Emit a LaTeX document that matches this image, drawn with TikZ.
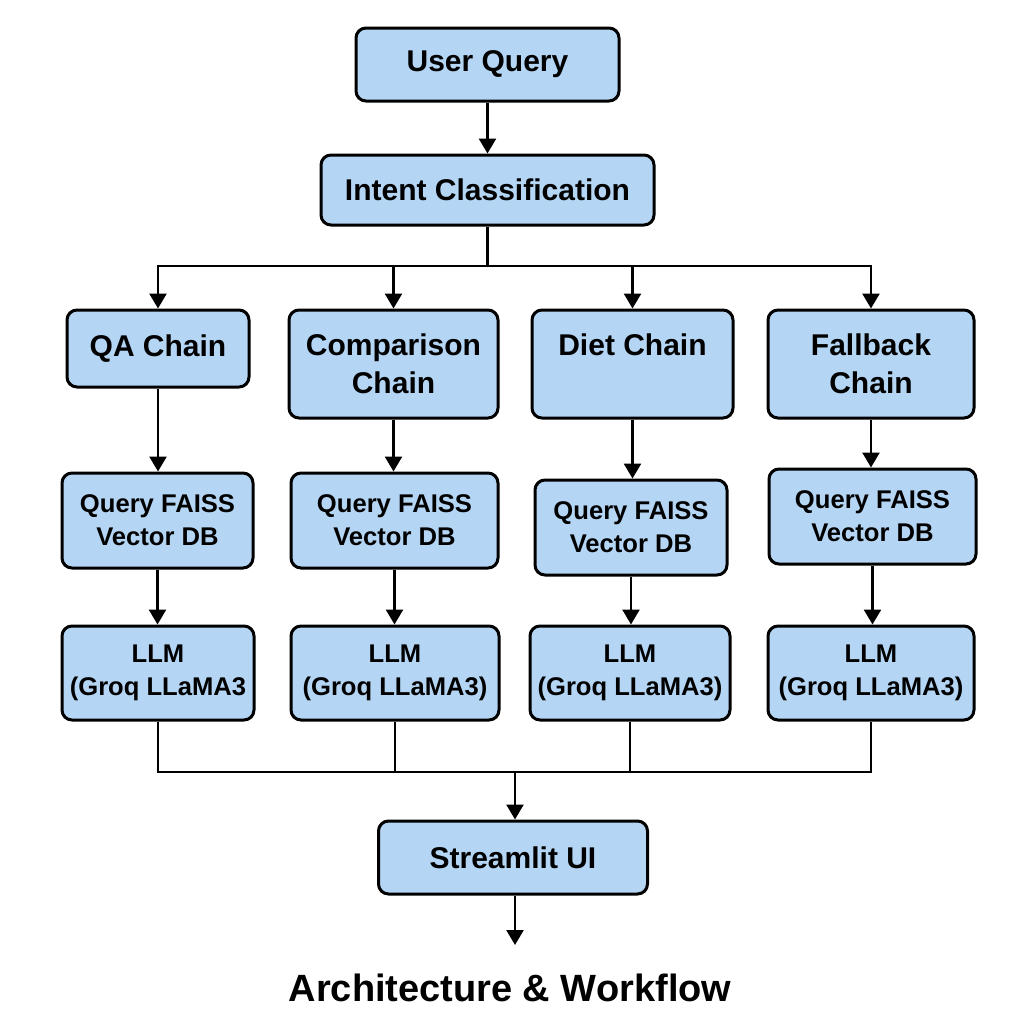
\documentclass[tikz,border=0pt]{standalone}
\usepackage{fontspec}
\setmainfont{Liberation Sans}
\usepackage{tikz}
\usetikzlibrary{arrows.meta,positioning}
\definecolor{boxblue}{RGB}{180,213,243}

\begin{document}
\begin{tikzpicture}[
  x=0.5pt, y=-0.5pt,
  box/.style={draw, line width=1.5pt, fill=boxblue, rounded corners=5pt, align=center, inner sep=2pt, font=\bfseries\fontsize{15}{19}\selectfont},
  smallbox/.style={box, font=\bfseries\fontsize{12.8}{16.5}\selectfont},
  arr/.style={-{Triangle[width=8.5pt,length=7.5pt]}, line width=1.3pt},
  link/.style={line width=1.3pt}
]
\fill[white] (0,0) rectangle (1024,1024);
\useasboundingbox (0,0) rectangle (1024,1024);

\node[box, minimum width=131.5pt, minimum height=36.5pt] (query) at (487.5,64.5) {User Query};
\node[box, minimum width=166.5pt, minimum height=35pt] (intent) at (487.5,190) {Intent Classification};

% the four chains
\node[box, minimum width=91pt, minimum height=38.5pt] (qa) at (158,348.5) {QA Chain};
\node[box, minimum width=104.5pt, minimum height=54pt] (cmp) at (393.5,364) {Comparison\\Chain};
\node[box, minimum width=100.5pt, minimum height=54pt] (diet) at (632.5,364) {Diet Chain\\\mbox{}};
\node[box, minimum width=103pt, minimum height=54pt] (fall) at (871,364) {Fallback\\Chain};

\node[smallbox, minimum width=95.5pt, minimum height=47.5pt] (faissqa) at (157.5,520.5) {Query FAISS\\Vector DB};
\node[smallbox, minimum width=103.5pt, minimum height=47.5pt] (faisscmp) at (394.5,520.5) {Query FAISS\\Vector DB};
\node[smallbox, minimum width=96pt, minimum height=47.5pt] (faissdiet) at (631,527.5) {Query FAISS\\Vector DB};
\node[smallbox, minimum width=103.5pt, minimum height=47.5pt] (faissfall) at (872.5,516.5) {Query FAISS\\Vector DB};

\node[smallbox, minimum width=96pt, minimum height=47pt] (llmqa) at (158,673) {LLM\\(Groq LLaMA3};
\node[smallbox, minimum width=104pt, minimum height=47pt] (llmcmp) at (395,673) {LLM\\(Groq LLaMA3)};
\node[smallbox, minimum width=100pt, minimum height=47pt] (llmdiet) at (630,673) {LLM\\(Groq LLaMA3)};
\node[smallbox, minimum width=103pt, minimum height=47pt] (llmfall) at (871,673) {LLM\\(Groq LLaMA3)};

\node[box, minimum width=134.5pt, minimum height=36.5pt] (ui) at (513,857.5) {Streamlit UI};
\node[font=\bfseries\fontsize{19}{23}\selectfont] (title) at (510,988) {Architecture \& Workflow};

\coordinate (split) at (487.5,266);
\coordinate (join) at (515,772);
\coordinate (out) at (515,945);

\draw[arr] (query) -- (intent);
\draw[link] (intent) -- (split);
\draw[arr] (split) -| (qa.north);
\draw[arr] (split) -| (cmp.north);
\draw[arr] (split) -| (diet.north);
\draw[arr] (split) -| (fall.north);

\draw[arr] (qa) -- (qa |- faissqa.north);
\draw[arr] (cmp) -- (cmp |- faisscmp.north);
\draw[arr] (diet) -- (diet |- faissdiet.north);
\draw[arr] (fall) -- (fall |- faissfall.north);

\draw[arr] (faissqa) -- (faissqa |- llmqa.north);
\draw[arr] (faisscmp) -- (faisscmp |- llmcmp.north);
\draw[arr] (faissdiet) -- (faissdiet |- llmdiet.north);
\draw[arr] (faissfall) -- (faissfall |- llmfall.north);

\draw[link] (llmqa) |- (join);
\draw[link] (llmcmp) |- (join);
\draw[link] (llmdiet) |- (join);
\draw[link] (llmfall) |- (join);
\draw[arr] (join) -- (ui.north -| join);
\draw[arr] (ui.south -| out) -- (out);
\end{tikzpicture}
\end{document}
